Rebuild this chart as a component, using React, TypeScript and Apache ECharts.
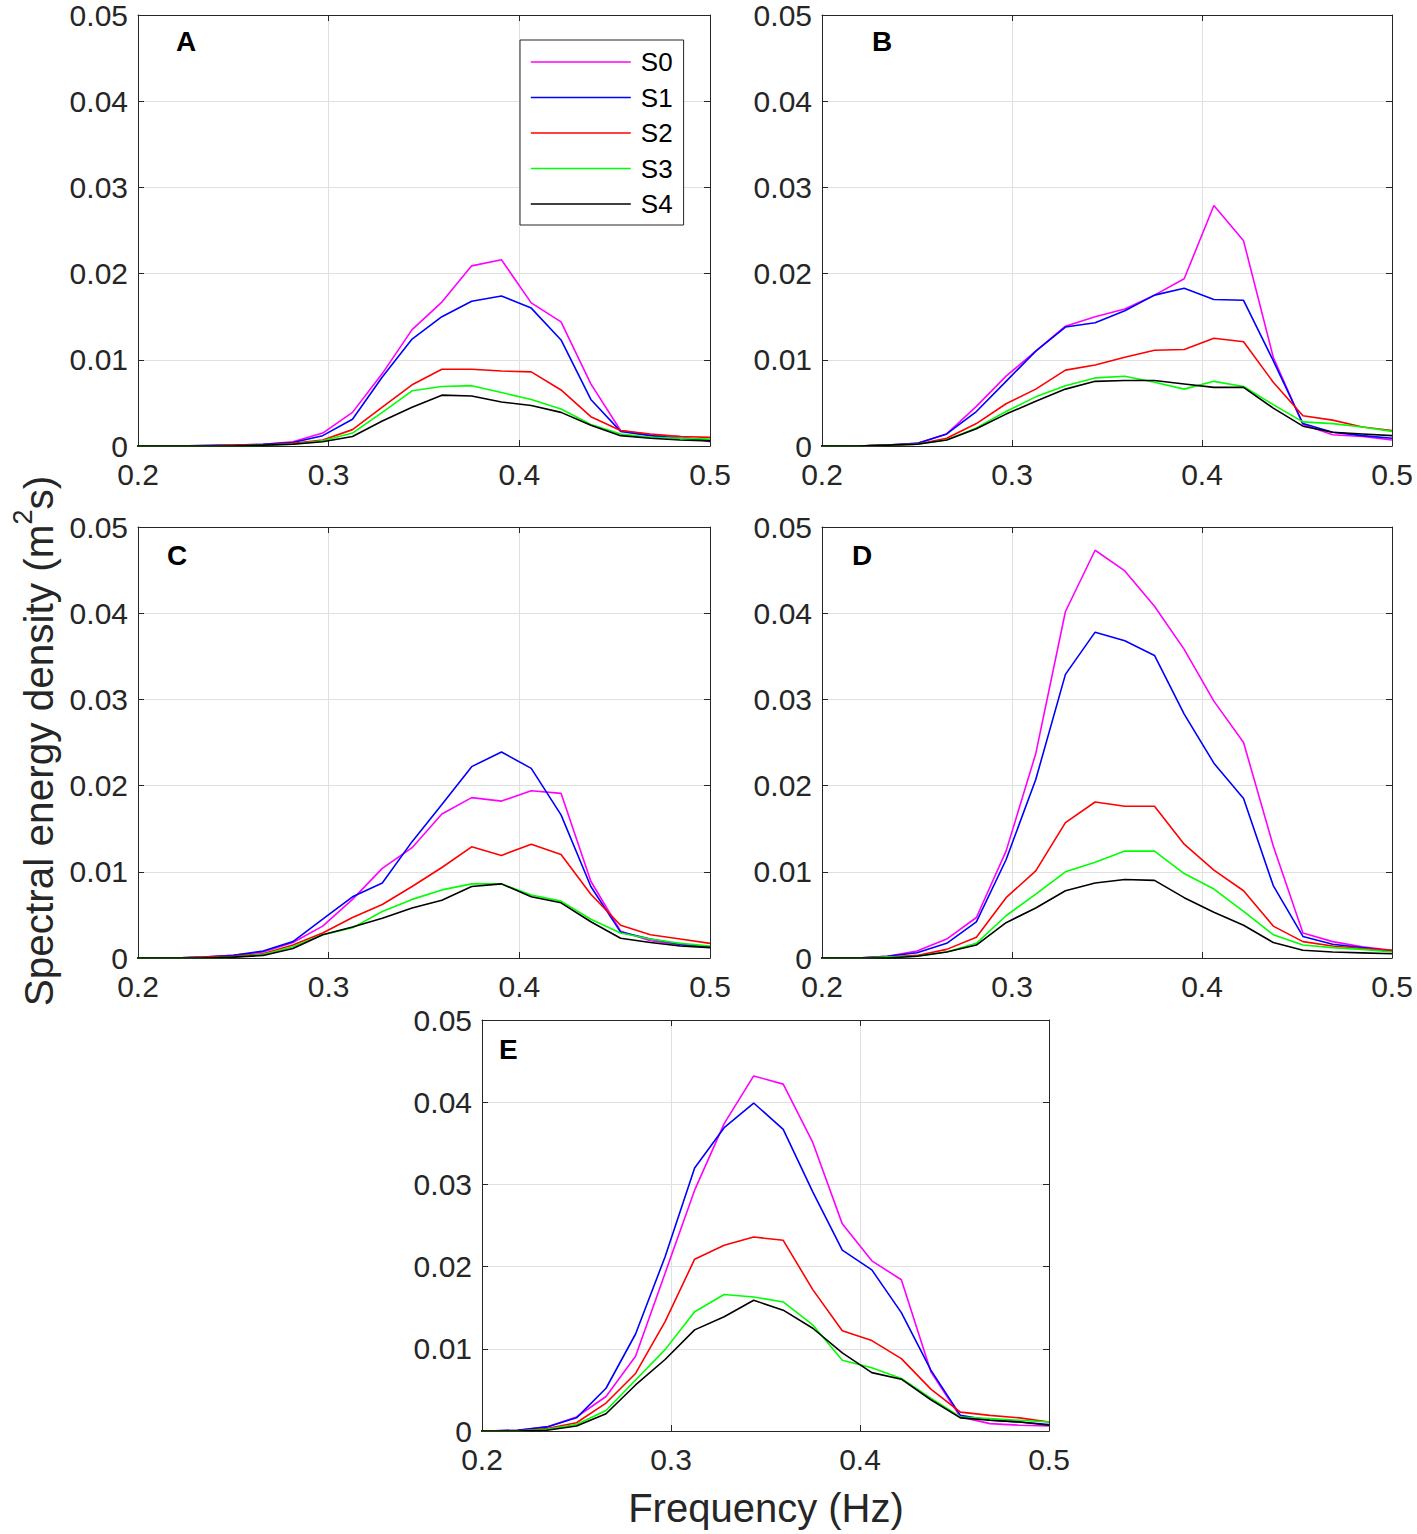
import React, { useEffect, useRef } from "react";
import * as echarts from "echarts";

// Frequencies k/64 for k = 12..32 (Hz)
const FREQ = [
  0.1875, 0.203125, 0.21875, 0.234375, 0.25, 0.265625, 0.28125, 0.296875, 0.3125, 0.328125,
  0.34375, 0.359375, 0.375, 0.390625, 0.40625, 0.421875, 0.4375, 0.453125, 0.46875, 0.484375, 0.5,
];

const NAMES = ["S0", "S1", "S2", "S3", "S4"];
const COLORS = ["#ff00ff", "#0000ff", "#ff0000", "#00ff00", "#000000"];
const PANEL_LABELS = ["A", "B", "C", "D", "E"];
const X_TICKS = [0.2, 0.3, 0.4, 0.5];
const Y_TICKS = [0, 0.01, 0.02, 0.03, 0.04, 0.05];

// Panel A
const A_S0 = [0, 0, 0, 0.00005, 0.0001, 0.0002, 0.0005, 0.0015, 0.0039, 0.0084, 0.0135, 0.0167, 0.0209, 0.0216, 0.0166, 0.0144, 0.0072, 0.0018, 0.0013, 0.0011, 0.0005];
const A_S1 = [0, 0, 0, 0.00005, 0.0001, 0.0002, 0.0004, 0.0012, 0.0031, 0.008, 0.0124, 0.015, 0.0168, 0.0174, 0.016, 0.0123, 0.0054, 0.0017, 0.0012, 0.0009, 0.0007];
const A_S2 = [0, 0, 0, 0, 0.0001, 0.0001, 0.0003, 0.0007, 0.0019, 0.0045, 0.0071, 0.0089, 0.0089, 0.0087, 0.0086, 0.0065, 0.0034, 0.0018, 0.0014, 0.0011, 0.001];
const A_S3 = [0, 0, 0, 0, 0, 0.0001, 0.0002, 0.0006, 0.0015, 0.0039, 0.0064, 0.0069, 0.007, 0.0062, 0.0054, 0.0043, 0.0025, 0.0014, 0.001, 0.0009, 0.0008];
const A_S4 = [0, 0, 0, 0, 0, 0.0001, 0.0002, 0.0005, 0.0011, 0.0029, 0.0045, 0.0059, 0.0058, 0.0051, 0.0047, 0.0039, 0.0024, 0.0012, 0.0009, 0.0007, 0.0006];

// Panel B
const B_S0 = [0, 0, 0, 0.0001, 0.0003, 0.0014, 0.0046, 0.0081, 0.011, 0.0139, 0.015, 0.0159, 0.0175, 0.0194, 0.0279, 0.0238, 0.0103, 0.0025, 0.0013, 0.0011, 0.0007];
const B_S1 = [0, 0, 0, 0.0001, 0.0003, 0.0014, 0.004, 0.0075, 0.011, 0.0138, 0.0143, 0.0157, 0.0175, 0.0183, 0.017, 0.0169, 0.0099, 0.0026, 0.0016, 0.0012, 0.0009];
const B_S2 = [0, 0, 0, 0.0001, 0.0002, 0.0009, 0.0026, 0.0049, 0.0066, 0.0088, 0.0094, 0.0103, 0.0111, 0.0112, 0.0125, 0.0121, 0.0074, 0.0035, 0.003, 0.0022, 0.0018];
const B_S3 = [0, 0, 0, 0.0001, 0.0002, 0.0007, 0.0021, 0.004, 0.0057, 0.007, 0.0079, 0.0081, 0.0074, 0.0066, 0.0075, 0.0069, 0.0048, 0.0028, 0.0026, 0.0022, 0.0017];
const B_S4 = [0, 0, 0, 0.0001, 0.0002, 0.0007, 0.002, 0.0037, 0.0052, 0.0066, 0.0075, 0.0076, 0.0076, 0.0072, 0.0068, 0.0068, 0.0044, 0.0023, 0.0016, 0.0014, 0.0012];

// Panel C
const C_S0 = [0, 0, 0, 0.0001, 0.0003, 0.0007, 0.0018, 0.0037, 0.0068, 0.0104, 0.0128, 0.0167, 0.0186, 0.0182, 0.0194, 0.0191, 0.0089, 0.0031, 0.002, 0.0015, 0.0013];
const C_S1 = [0, 0, 0, 0.0001, 0.0003, 0.0008, 0.0019, 0.0045, 0.0071, 0.0087, 0.0135, 0.0178, 0.0222, 0.0239, 0.022, 0.0166, 0.0083, 0.003, 0.0022, 0.0016, 0.0013];
const C_S2 = [0, 0, 0, 0.0001, 0.0002, 0.0005, 0.0015, 0.0029, 0.0047, 0.0062, 0.0083, 0.0105, 0.0129, 0.0119, 0.0132, 0.012, 0.0074, 0.0038, 0.0027, 0.0022, 0.0017];
const C_S3 = [0, 0, 0, 0, 0.0001, 0.0004, 0.0013, 0.0027, 0.0035, 0.0054, 0.0068, 0.0079, 0.0086, 0.0086, 0.0073, 0.0066, 0.0045, 0.0029, 0.0022, 0.0017, 0.0014];
const C_S4 = [0, 0, 0, 0, 0.0001, 0.0003, 0.0011, 0.0027, 0.0036, 0.0046, 0.0058, 0.0067, 0.0083, 0.0086, 0.0071, 0.0064, 0.0042, 0.0023, 0.0018, 0.0014, 0.0012];

// Panel D
const D_S0 = [0, 0, 0, 0.0002, 0.0008, 0.0022, 0.0047, 0.0124, 0.0237, 0.0402, 0.0473, 0.0449, 0.0408, 0.0358, 0.0298, 0.025, 0.013, 0.0029, 0.0019, 0.0013, 0.0009];
const D_S1 = [0, 0, 0, 0.0002, 0.0006, 0.0017, 0.0042, 0.0114, 0.0207, 0.0329, 0.0378, 0.0368, 0.0351, 0.0283, 0.0226, 0.0185, 0.0084, 0.0025, 0.0016, 0.0012, 0.0008];
const D_S2 = [0, 0, 0, 0.0001, 0.0003, 0.001, 0.0024, 0.007, 0.0101, 0.0157, 0.0181, 0.0176, 0.0176, 0.0132, 0.0102, 0.0078, 0.0037, 0.0019, 0.0014, 0.0011, 0.0009];
const D_S3 = [0, 0, 0, 0.0001, 0.0002, 0.0007, 0.0017, 0.0049, 0.0074, 0.01, 0.0111, 0.0124, 0.0124, 0.0098, 0.008, 0.0054, 0.0027, 0.0015, 0.0012, 0.001, 0.0007];
const D_S4 = [0, 0, 0, 0, 0.0002, 0.0007, 0.0015, 0.0041, 0.0058, 0.0078, 0.0087, 0.0091, 0.009, 0.007, 0.0053, 0.0038, 0.0018, 0.0009, 0.0007, 0.0006, 0.0005];

// Panel E
const E_S0 = [0, 0, 0.0001, 0.0005, 0.0017, 0.0042, 0.0091, 0.0192, 0.0293, 0.0374, 0.0432, 0.0422, 0.0351, 0.0252, 0.0207, 0.0184, 0.0072, 0.0017, 0.0009, 0.0007, 0.0006];
const E_S1 = [0, 0, 0.0001, 0.0005, 0.0016, 0.0052, 0.0118, 0.0212, 0.032, 0.0369, 0.0399, 0.0367, 0.0291, 0.022, 0.0196, 0.0144, 0.0074, 0.0019, 0.0013, 0.0011, 0.0008];
const E_S2 = [0, 0, 0, 0.0003, 0.001, 0.0034, 0.007, 0.0133, 0.0209, 0.0226, 0.0236, 0.0232, 0.0172, 0.0122, 0.011, 0.0088, 0.0051, 0.0023, 0.0019, 0.0016, 0.0011];
const E_S3 = [0, 0, 0, 0.0002, 0.0008, 0.0025, 0.0062, 0.0099, 0.0145, 0.0166, 0.0163, 0.0157, 0.0129, 0.0086, 0.0077, 0.0064, 0.004, 0.0017, 0.0015, 0.0013, 0.0011];
const E_S4 = [0, 0, 0, 0.0001, 0.0006, 0.0021, 0.0056, 0.0087, 0.0123, 0.0139, 0.0159, 0.0147, 0.0125, 0.0095, 0.0071, 0.0063, 0.0038, 0.0016, 0.0013, 0.0011, 0.0007];

const PANELS = [
  [A_S0, A_S1, A_S2, A_S3, A_S4],
  [B_S0, B_S1, B_S2, B_S3, B_S4],
  [C_S0, C_S1, C_S2, C_S3, C_S4],
  [D_S0, D_S1, D_S2, D_S3, D_S4],
  [E_S0, E_S1, E_S2, E_S3, E_S4],
];

const FONT = "'Liberation Sans', Arial, Helvetica, sans-serif";
const AXIS_COLOR = "#262626";
const GRID_COLOR = "#e0e0e0";

const GRIDS = [
  { left: 138, top: 15, width: 572, height: 431 },
  { left: 822, top: 15, width: 570, height: 431 },
  { left: 138, top: 527, width: 572, height: 431 },
  { left: 822, top: 527, width: 570, height: 431 },
  { left: 482, top: 1020, width: 567, height: 411 },
];

const LETTER_POS = [
  [176, 41],
  [872, 41],
  [167, 555],
  [852, 555],
  [499, 1049],
];

function buildOption() {
  const grid = GRIDS.map((g) => ({ ...g, containLabel: false, show: false }));
  const xAxis: any[] = [];
  const yAxis: any[] = [];
  GRIDS.forEach((_, i) => {
    const common = {
      type: "value",
      gridIndex: i,
      min: X_TICKS[0],
      max: X_TICKS[X_TICKS.length - 1],
      interval: 0.1,
      axisLine: { show: true, onZero: false, lineStyle: { color: AXIS_COLOR, width: 1 } },
      axisTick: { show: true, inside: true, length: 6, lineStyle: { color: AXIS_COLOR } },
    };
    xAxis.push({
      ...common,
      position: "bottom",
      axisLabel: {
        show: true,
        margin: 13,
        fontSize: 30,
        fontFamily: FONT,
        color: AXIS_COLOR,
        formatter: (v: number) => String(Math.round(v * 10) / 10),
      },
      splitLine: { show: true, lineStyle: { color: GRID_COLOR, width: 1 } },
    });
    xAxis.push({
      ...common,
      position: "top",
      axisLabel: { show: false },
      splitLine: { show: false },
    });
    const ycommon = {
      type: "value",
      gridIndex: i,
      min: Y_TICKS[0],
      max: Y_TICKS[Y_TICKS.length - 1],
      interval: 0.01,
      axisLine: { show: true, onZero: false, lineStyle: { color: AXIS_COLOR, width: 1 } },
      axisTick: { show: true, inside: true, length: 6, lineStyle: { color: AXIS_COLOR } },
    };
    yAxis.push({
      ...ycommon,
      position: "left",
      axisLabel: {
        show: true,
        margin: 10,
        fontSize: 30,
        fontFamily: FONT,
        color: AXIS_COLOR,
        formatter: (v: number) => {
          const r = Math.round(v * 100) / 100;
          return r === 0 ? "0" : r.toFixed(2);
        },
      },
      splitLine: { show: true, lineStyle: { color: GRID_COLOR, width: 1 } },
    });
    yAxis.push({
      ...ycommon,
      position: "right",
      axisLabel: { show: false },
      splitLine: { show: false },
    });
  });

  const series: any[] = [];
  PANELS.forEach((panel, p) => {
    panel.forEach((vals, s) => {
      series.push({
        type: "line",
        name: NAMES[s],
        xAxisIndex: 2 * p,
        yAxisIndex: 2 * p,
        data: FREQ.map((f, i) => [f, vals[i]]),
        symbol: "none",
        showSymbol: false,
        clip: true,
        lineStyle: { color: COLORS[s], width: 1.6 },
        itemStyle: { color: COLORS[s] },
        emphasis: { disabled: true },
        z: 3 + s,
      });
    });
  });

  const graphic: any[] = PANEL_LABELS.map((t, i) => ({
    type: "text",
    x: LETTER_POS[i][0],
    y: LETTER_POS[i][1],
    z: 100,
    style: {
      text: t,
      fontSize: 28,
      fontWeight: "bold",
      fontFamily: FONT,
      fill: "#000",
      textAlign: "left",
      textVerticalAlign: "middle",
    },
  }));

  graphic.push({
    type: "text",
    x: 34,
    y: 741,
    rotation: Math.PI / 2,
    z: 100,
    style: {
      text: "{a|Spectral energy density (m}{b|2}{a|s)}",
      textAlign: "center",
      textVerticalAlign: "middle",
      fill: AXIS_COLOR,
      rich: {
        a: { fontSize: 40.5, fontFamily: FONT, fill: AXIS_COLOR, lineHeight: 50, verticalAlign: "bottom" },
        b: { fontSize: 27, fontFamily: FONT, fill: AXIS_COLOR, lineHeight: 50, verticalAlign: "top" },
      },
    },
  });

  graphic.push({
    type: "text",
    x: 766,
    y: 1508,
    z: 100,
    style: {
      text: "Frequency (Hz)",
      fontSize: 40,
      fontFamily: FONT,
      fill: AXIS_COLOR,
      textAlign: "center",
      textVerticalAlign: "middle",
    },
  });

  return {
    animation: false,
    backgroundColor: "#ffffff",
    grid,
    xAxis,
    yAxis,
    series,
    legend: {
      show: true,
      selectedMode: false,
      data: NAMES,
      orient: "vertical",
      left: 520,
      top: 40,
      itemWidth: 100,
      itemHeight: 26,
      itemGap: 9.5,
      padding: [9, 11, 8, 10],
      borderColor: AXIS_COLOR,
      borderWidth: 1,
      borderRadius: 0,
      backgroundColor: "#ffffff",
      z: 50,
      itemStyle: { opacity: 0, borderWidth: 0 },
      lineStyle: { width: 1.6 },
      textStyle: {
        fontSize: 26,
        fontFamily: FONT,
        color: "#000",
        lineHeight: 26,
        padding: [0, 0, 0, 5],
      },
    },
    graphic,
  };
}

export default function App() {
  const ref = useRef<HTMLDivElement>(null);
  useEffect(() => {
    if (!ref.current) return;
    const chart = echarts.init(ref.current, null, { renderer: "svg" });
    chart.setOption(buildOption() as any);
    return () => {
      chart.dispose();
    };
  }, []);
  return (
    <div
      ref={ref}
      style={{ position: "absolute", left: 0, top: 0, width: 1417, height: 1534, background: "#fff" }}
    />
  );
}
